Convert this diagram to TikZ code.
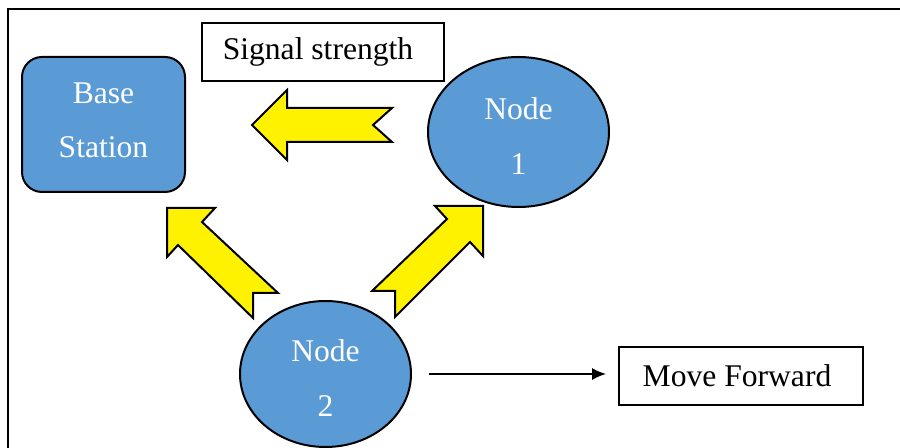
\documentclass[tikz,border=0pt]{standalone}
\usepackage{fontspec}
\setmainfont{Liberation Serif}
\usetikzlibrary{shapes.geometric,arrows.meta}
\definecolor{nodeblue}{HTML}{5B9BD5}
\tikzset{
  labelbox/.style={draw, line width=0.8pt, minimum height=29pt, inner sep=0pt,
    font=\fontsize{15.8}{19}\selectfont},
  station/.style={draw, line width=1pt, rounded corners=10pt, fill=nodeblue,
    text=white, align=center, inner sep=0pt, minimum width=81.5pt,
    minimum height=67.5pt, text depth=4pt, font=\fontsize{15.8}{27}\selectfont},
  sensor/.style={ellipse, draw, line width=1pt, fill=nodeblue, text=white,
    align=center, inner sep=0pt, text height=43pt, text depth=0pt,
    font=\fontsize{15.8}{27.5}\selectfont},
  blockarrow/.style={draw, line width=1pt, fill=yellow, line join=miter},
}
\begin{document}
\begin{tikzpicture}[x=0.5pt, y=-0.5pt]
        \useasboundingbox (0,0) rectangle (900,448);
        % Cornice
        \draw[line width=1.2pt] (8,470) -- (8,9) -- (920,9);
        % Nodi
        \node[station] (base) at (103.5,124.5) {Base\\Station};
        \node[labelbox, minimum width=121pt] (signal) at (323,52) {Signal strength\hspace*{5pt}};
        \node[sensor, minimum width=90.5pt, minimum height=75pt] (n1) at (518.5,132) {Node\\1};
        \node[sensor, minimum width=85.5pt, minimum height=73pt] (n2) at (325.5,374) {Node\\2};
        \node[labelbox, minimum width=122pt] (move) at (741,376) {Move Forward\hspace*{4pt}};
        % Frecce gialle
        \filldraw[blockarrow] (252,125) -- (287,90) -- (287,108) -- (392,108) -- (373,125)
            -- (392,142) -- (287,142) -- (287,160) -- cycle;
        \filldraw[blockarrow] (167,208) -- (215,208) -- (202,222) -- (278,293) -- (253,293)
            -- (253,318) -- (178,245) -- (167,257) -- cycle;
        \filldraw[blockarrow] (483,206) -- (435,206) -- (447,219) -- (372,291) -- (395,291)
            -- (395,317) -- (470,242) -- (483,256) -- cycle;
        % Movimento
        \draw[line width=1pt, -{Latex[length=7pt,width=6pt]}, shorten <=8.5pt, shorten >=6pt]
            (n2.east) -- (n2.east -| move.west);
    \end{tikzpicture}
\end{document}
